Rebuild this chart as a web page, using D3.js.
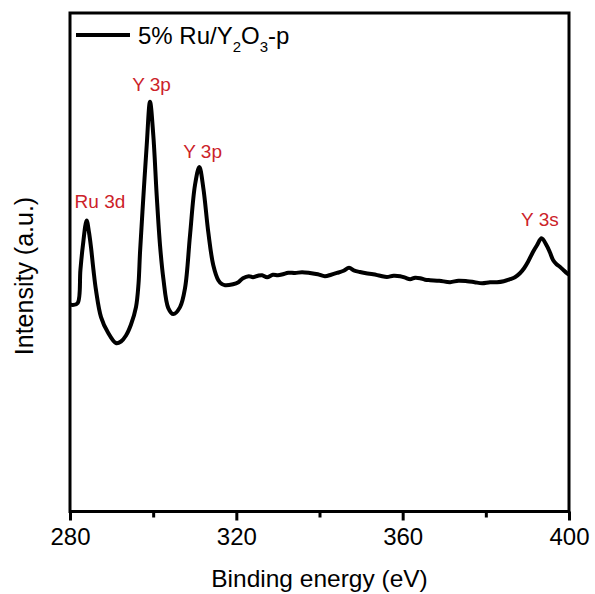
<!DOCTYPE html>
<html>
<head>
<meta charset="utf-8">
<script src="https://cdn.jsdelivr.net/npm/d3@7"></script>
<style>
  html, body { margin: 0; padding: 0; background: #fff; }
  text { font-family: "Liberation Sans", Arial, sans-serif; }
</style>
</head>
<body>
<svg id="chart" width="595" height="594"></svg>
<script>
// Binding energy (eV)
const energy = [280.0, 280.7, 281.85, 282.5, 283.05, 284.0, 284.57, 285.05, 285.65, 286.25, 287.46, 289.07, 291.06, 292.27, 293.47, 294.67, 295.87, 296.47, 296.84, 297.56, 298.45, 299.24, 300.03, 300.85, 301.65, 302.44, 303.64, 304.84, 306.46, 307.66, 308.86, 310.06, 311.1, 312.06, 313.26, 314.46, 315.67, 316.56, 317.28, 319.2, 320.5, 321.6, 323.0, 324.0, 325.2, 326.2, 327.4, 328.8, 330.0, 331.2, 332.5, 334.1, 335.8, 337.7, 339.6, 341.3, 342.8, 344.2, 345.8, 347.1, 348.4, 349.7, 351.2, 352.9, 354.6, 356.2, 357.8, 359.4, 360.6, 361.8, 363.0, 364.2, 365.4, 366.6, 368.8, 371.4, 373.4, 375.5, 377.3, 379.1, 381.0, 382.7, 384.3, 385.8, 387.0, 388.2, 389.2, 390.15, 391.3, 392.3, 393.4, 394.6, 395.4, 396.2, 397.0, 397.8, 398.7, 399.5, 400.0];
// Intensity (a.u.)
const intensity = [41.6, 41.4, 41.8, 48.4, 53.0, 58.4, 56.0, 53.0, 48.4, 44.4, 39.0, 36.0, 33.8, 34.1, 35.3, 37.5, 41.0, 45.6, 52.0, 62.0, 73.5, 82.2, 75.5, 63.4, 53.4, 46.8, 40.8, 39.6, 41.0, 44.8, 55.4, 65.5, 69.1, 64.9, 56.0, 49.4, 46.4, 45.6, 45.4, 45.6, 46.0, 46.8, 47.2, 47.0, 47.3, 47.4, 47.0, 47.5, 47.4, 47.6, 47.9, 47.85, 48.0, 47.85, 47.6, 47.2, 47.5, 47.85, 48.3, 48.9, 48.3, 48.05, 47.8, 47.6, 47.3, 47.05, 47.3, 47.2, 46.9, 46.6, 46.9, 46.8, 46.5, 46.4, 46.3, 46.0, 46.3, 46.2, 46.0, 45.8, 46.0, 46.0, 46.2, 46.6, 47.0, 47.8, 48.8, 50.1, 52.0, 53.4, 54.8, 53.4, 52.0, 50.4, 49.6, 49.1, 48.4, 47.8, 47.5];

const xTicksMajor = [280, 320, 360, 400];
const xTicksMinor = [300, 340, 380];

const annLabels = ["Ru 3d", "Y 3p", "Y 3p", "Y 3s"];
const annEnergy = [287.2, 299.6, 311.9, 393.0];
const annIntensity = [60.9, 84.3, 70.9, 57.3];

const xTitle = "Binding energy (eV)";
const yTitle = "Intensity (a.u.)";

const svg = d3.select("#chart");
const L = 70, R = 569, T = 13, B = 511.5;

const x = d3.scaleLinear().domain([280, 400]).range([L, R]);
const y = d3.scaleLinear().domain([0, 100]).range([B, T]);

const red = "#cc2229";

// frame
svg.append("rect")
  .attr("x", L).attr("y", T)
  .attr("width", R - L).attr("height", B - T)
  .attr("fill", "none").attr("stroke", "#000").attr("stroke-width", 3);

// bottom axis
const axMajor = d3.axisBottom(x).tickValues(xTicksMajor).tickSize(9).tickPadding(7).tickFormat(d3.format("d"));
const gx = svg.append("g").attr("transform", `translate(0,${B})`).call(axMajor);
gx.select(".domain").remove();
gx.selectAll(".tick line").attr("stroke", "#000").attr("stroke-width", 3);
gx.selectAll(".tick text").attr("font-size", 24).attr("fill", "#000")
  .style("font-family", '"Liberation Sans", Arial, sans-serif');

const axMinor = d3.axisBottom(x).tickValues(xTicksMinor).tickSize(6).tickFormat("");
const gm = svg.append("g").attr("transform", `translate(0,${B})`).call(axMinor);
gm.select(".domain").remove();
gm.selectAll(".tick line").attr("stroke", "#000").attr("stroke-width", 3);

// curve
const pts = energy.map((e, i) => [e, intensity[i]]);
svg.append("path")
  .datum(pts)
  .attr("fill", "none")
  .attr("stroke", "#000")
  .attr("stroke-width", 4)
  .attr("stroke-linejoin", "round")
  .attr("d", d3.line().x(d => x(d[0])).y(d => y(d[1])).curve(d3.curveCatmullRom.alpha(0.5)));

// annotations
svg.selectAll("text.ann")
  .data(annLabels)
  .enter().append("text")
  .attr("class", "ann")
  .attr("x", (d, i) => x(annEnergy[i]))
  .attr("y", (d, i) => y(annIntensity[i]))
  .attr("text-anchor", "middle")
  .attr("font-size", 19)
  .attr("fill", red)
  .text(d => d);

// legend
svg.append("line")
  .attr("x1", 76).attr("x2", 130).attr("y1", 35).attr("y2", 35)
  .attr("stroke", "#000").attr("stroke-width", 4);
const lt = svg.append("text").attr("x", 138).attr("y", 44).attr("font-size", 24).attr("fill", "#000");
lt.append("tspan").text("5% Ru/Y");
lt.append("tspan").attr("font-size", 15).attr("dy", 8).text("2");
lt.append("tspan").attr("dy", -8).text("O");
lt.append("tspan").attr("font-size", 15).attr("dy", 8).text("3");
lt.append("tspan").attr("dy", -8).text("-p");

// axis titles
svg.append("text")
  .attr("x", (L + R) / 2).attr("y", 587)
  .attr("text-anchor", "middle").attr("font-size", 24.5).attr("fill", "#000")
  .text(xTitle);
svg.append("text")
  .attr("transform", `translate(33,276) rotate(-90)`)
  .attr("text-anchor", "middle").attr("font-size", 25).attr("fill", "#000")
  .text(yTitle);
</script>
</body>
</html>
